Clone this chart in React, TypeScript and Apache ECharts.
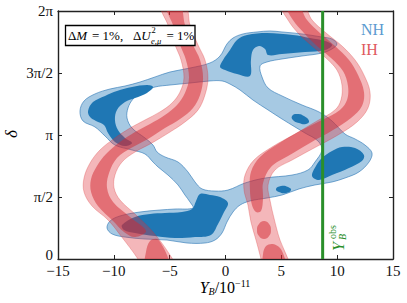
import React, { useEffect, useRef } from "react";
import * as echarts from "echarts";

// ---------- data (Y_B in 1e-11, delta in units of pi) ----------
const xTickValues = [-15, -10, -5, 0, 5, 10, 15];
const yTickLabels = ["0", "π/2", "π", "3π/2", "2π"];
const yObs = 8.7;

// NH (normal hierarchy) 2-sigma region outer boundary
const nhOuter: number[][] = [
  [-13.03, 1.194], [-12.67, 1.274], [-11.69, 1.331], [-10.34, 1.371], [-9.0, 1.395], [-7.66, 1.427],
  [-6.31, 1.468], [-4.97, 1.508], [-3.18, 1.54], [-1.39, 1.581], [-0.49, 1.637], [0.13, 1.734],
  [0.67, 1.782], [1.57, 1.815], [2.82, 1.831], [3.98, 1.839], [5.06, 1.831], [6.85, 1.815],
  [8.64, 1.79], [9.54, 1.774], [9.98, 1.734], [9.54, 1.694], [8.64, 1.661], [6.85, 1.637],
  [5.06, 1.613], [3.72, 1.589], [3.09, 1.557], [3.27, 1.468], [3.81, 1.379], [5.06, 1.315],
  [6.85, 1.242], [8.37, 1.186], [9.54, 1.113], [10.7, 1.008], [11.6, 0.968], [12.49, 0.919],
  [13.12, 0.855], [12.85, 0.782], [11.95, 0.702], [10.7, 0.653], [9.54, 0.621], [8.01, 0.597],
  [6.58, 0.565], [5.06, 0.516], [3.72, 0.492], [2.19, 0.468], [1.3, 0.435], [0.67, 0.379],
  [0.13, 0.298], [-0.31, 0.21], [-0.94, 0.153], [-1.84, 0.129], [-3.45, 0.129], [-5.24, 0.153],
  [-7.21, 0.161], [-9.0, 0.177], [-10.16, 0.202], [-10.61, 0.25], [-10.34, 0.306], [-9.45, 0.347],
  [-7.66, 0.379], [-5.87, 0.395], [-4.52, 0.403], [-2.91, 0.411], [-3.18, 0.46], [-3.63, 0.516],
  [-4.25, 0.597], [-5.15, 0.677], [-6.04, 0.742], [-6.49, 0.782], [-7.21, 0.847], [-8.37, 0.879],
  [-9.9, 0.919], [-10.79, 0.992], [-11.69, 1.065], [-12.76, 1.113],
];
// NH inner hole
const nhHole: number[][] = [
  [-8.73, 1.218], [-8.28, 1.29], [-7.48, 1.347], [-6.31, 1.387], [-4.97, 1.403], [-3.18, 1.419],
  [-1.39, 1.436], [-0.31, 1.436], [0.4, 1.411], [1.3, 1.363], [2.46, 1.282], [3.81, 1.202],
  [5.06, 1.129], [6.22, 1.065], [7.12, 1.016], [8.28, 0.952], [8.64, 0.879], [8.01, 0.782],
  [7.39, 0.718], [5.96, 0.677], [3.54, 0.653], [1.75, 0.613], [0.22, 0.556], [-0.94, 0.548],
  [-2.1, 0.565], [-2.73, 0.621], [-3.36, 0.702], [-4.25, 0.782], [-5.42, 0.823], [-6.13, 0.863],
  [-6.49, 0.919], [-7.21, 0.976], [-8.37, 1.056], [-8.82, 1.137],
];
// NH 1-sigma cores
const nhCore1: number[][] = [
  [-12.31, 1.194], [-11.87, 1.266], [-10.79, 1.315], [-9.72, 1.355], [-8.37, 1.387], [-7.03, 1.403],
  [-6.49, 1.387], [-7.03, 1.339], [-8.1, 1.298], [-9.0, 1.266], [-9.72, 1.202], [-9.9, 1.121],
  [-9.63, 1.04], [-9.0, 0.976], [-8.37, 0.936], [-9.0, 0.911], [-9.9, 0.944], [-10.52, 1.016],
  [-10.88, 1.081], [-11.6, 1.113], [-12.13, 1.145],
];
const nhCore2: number[][] = [
  [-0.49, 1.548], [-0.22, 1.605], [0.4, 1.685], [1.03, 1.766], [1.93, 1.806], [3.72, 1.823],
  [6.04, 1.806], [7.57, 1.782], [8.91, 1.758], [9.54, 1.726], [8.91, 1.685], [7.12, 1.669],
  [5.06, 1.653], [3.81, 1.645], [3.54, 1.694], [3.0, 1.718], [2.46, 1.685], [2.28, 1.605],
  [2.19, 1.476], [1.03, 1.492], [-0.04, 1.524],
];
const nhCore3: number[][] = [
  [-9.27, 0.274], [-8.1, 0.339], [-6.76, 0.363], [-5.42, 0.371], [-3.9, 0.379], [-3.0, 0.403],
  [-2.64, 0.468], [-2.28, 0.524], [-1.39, 0.516], [-0.49, 0.5], [0.22, 0.452], [-0.13, 0.379],
  [-0.67, 0.282], [-1.3, 0.194], [-2.73, 0.177], [-4.52, 0.169], [-6.31, 0.185], [-8.1, 0.21],
  [-9.09, 0.234],
];
const nhCore4: number[][] = [
  [7.75, 0.669], [8.1, 0.75], [8.64, 0.815], [9.54, 0.871], [10.43, 0.903], [11.6, 0.895],
  [12.4, 0.839], [12.22, 0.79], [11.06, 0.734], [9.54, 0.677], [8.37, 0.637],
];
const nhCore5: number[][] = [
  [5.96, 1.153], [6.4, 1.169], [7.03, 1.153], [7.48, 1.113], [7.21, 1.089], [6.58, 1.097], [6.04, 1.121],
];
const nhCore6: number[][] = [
  [4.52, 0.565], [4.97, 0.589], [5.6, 0.581], [5.87, 0.556], [5.42, 0.532], [4.79, 0.54],
];

// IH (inverted hierarchy) bands
const ihBandAOuter: number[][] = [
  [-5.78, 2.049], [-5.15, 1.887], [-4.52, 1.726], [-3.98, 1.605], [-3.72, 1.46], [-4.07, 1.347],
  [-4.79, 1.258], [-5.87, 1.186], [-7.21, 1.121], [-8.55, 1.056], [-9.9, 0.976], [-11.24, 0.879],
  [-12.13, 0.774], [-12.67, 0.653], [-12.67, 0.54], [-11.95, 0.427], [-10.52, 0.315], [-9.36, 0.185],
  [-7.84, 0], [-7.66, -0.048], [-4.61, -0.048], [-4.97, 0.032], [-6.49, 0.218], [-8.01, 0.355],
  [-9.45, 0.476], [-9.98, 0.573], [-9.9, 0.677], [-9.27, 0.782], [-8.1, 0.863], [-6.58, 0.936],
  [-4.97, 1.024], [-3.63, 1.105], [-2.46, 1.202], [-1.84, 1.323], [-1.57, 1.46], [-1.84, 1.605],
  [-2.46, 1.726], [-3.18, 1.887], [-3.63, 2.049],
];
const ihBandACore: number[][] = [
  [-5.33, 2.049], [-4.7, 1.887], [-4.07, 1.726], [-3.54, 1.605], [-3.27, 1.46], [-3.63, 1.339],
  [-4.34, 1.242], [-5.42, 1.161], [-6.76, 1.089], [-8.1, 1.024], [-9.45, 0.944], [-10.7, 0.847],
  [-11.51, 0.75], [-12.04, 0.645], [-12.04, 0.54], [-11.42, 0.427], [-10.07, 0.306], [-9.09, 0.218],
  [-8.1, 0.177], [-7.12, 0.226], [-8.55, 0.339], [-10.07, 0.46], [-10.61, 0.573], [-10.43, 0.694],
  [-9.72, 0.815], [-8.46, 0.895], [-6.94, 0.968], [-5.42, 1.056], [-4.07, 1.129], [-2.91, 1.218],
  [-2.28, 1.323], [-2.01, 1.46], [-2.28, 1.605], [-2.91, 1.726], [-3.63, 1.887], [-4.07, 2.049],
];
const ihBandACore2: number[][] = [
  [-6.76, 0.145], [-6.13, 0.161], [-5.69, 0.113], [-5.24, 0.032], [-5.06, -0.048], [-7.12, -0.048], [-7.12, 0.056],
];
const ihBandBOuter: number[][] = [
  [4.97, 2.049], [5.6, 1.927], [6.49, 1.823], [7.75, 1.718], [9.0, 1.621], [9.98, 1.524],
  [10.43, 1.403], [10.34, 1.282], [9.81, 1.202], [8.19, 1.113], [6.22, 1.008], [4.16, 0.903],
  [2.55, 0.798], [1.75, 0.677], [1.66, 0.556], [2.01, 0.435], [2.28, 0.298], [2.73, 0.153],
  [3.18, 0], [3.27, -0.048], [5.69, -0.048], [5.6, 0], [4.88, 0.153], [4.34, 0.331],
  [3.98, 0.476], [3.81, 0.597], [4.43, 0.718], [5.96, 0.798], [7.93, 0.895], [10.07, 1.0],
  [11.78, 1.105], [12.76, 1.218], [12.94, 1.347], [12.4, 1.484], [11.6, 1.605], [10.43, 1.718],
  [9.0, 1.823], [7.75, 1.927], [6.94, 2.049],
];
const ihBandBCore: number[][] = [
  [5.42, 2.049], [6.04, 1.927], [7.03, 1.823], [8.19, 1.718], [9.45, 1.621], [10.52, 1.516],
  [10.97, 1.395], [10.88, 1.282], [10.25, 1.202], [8.64, 1.121], [6.67, 1.032], [4.7, 0.927],
  [3.09, 0.823], [2.28, 0.702], [2.19, 0.556], [2.37, 0.435], [2.73, 0.379], [3.18, 0.387],
  [3.36, 0.492], [3.36, 0.613], [4.07, 0.742], [5.6, 0.831], [7.57, 0.936], [9.63, 1.04],
  [11.24, 1.137], [12.22, 1.234], [12.4, 1.347], [11.87, 1.484], [11.06, 1.605], [9.81, 1.718],
  [8.46, 1.823], [7.3, 1.927], [6.49, 2.049],
];
const ihBandBCore2: number[][] = [
  [3.45, 0.306], [3.9, 0.282], [4.07, 0.234], [3.9, 0.185], [3.45, 0.161], [3.0, 0.185], [2.82, 0.234], [3.0, 0.282],
];
const ihBandBCore3: number[][] = [
  [3.63, 0.105], [4.25, 0.121], [4.88, 0.089], [5.24, 0.024], [5.42, -0.048], [3.45, -0.048], [3.36, 0.04],
];

// ---------- styles ----------
const FONT = "Liberation Serif, Times New Roman, DejaVu Serif, serif";
const NH_LIGHT = "#a6c9e3";
const NH_DARK = "#1f77b4";
const NH_EDGE = "rgba(40,115,180,0.75)";
const IH_LIGHT = "rgba(224,49,58,0.35)";
const IH_DARK = "rgba(210,40,48,0.5)";
const IH_EDGE = "rgba(214,39,40,0.35)";
const AXIS = "#222";
const GREEN = "#2a8f2a";

function poly(points: number[][], fill: string, stroke: string | null, z: number, smooth = 0.35) {
  return {
    type: "custom",
    coordinateSystem: "cartesian2d",
    xAxisIndex: 0,
    yAxisIndex: 0,
    clip: true,
    silent: true,
    z,
    data: points,
    renderItem: (params: any, api: any) => {
      if (params.dataIndex !== 0) return null;
      const pts = points.map((p) => api.coord(p));
      return {
        type: "polygon",
        shape: { points: pts, smooth },
        style: { fill, stroke: stroke || "none", lineWidth: stroke ? 0.8 : 0 },
      };
    },
  };
}

function txt(x: number, y: number, text: string, size: number, extra: any = {}) {
  return {
    type: "text", z: 101, x, y,
    style: { text, fontFamily: FONT, fontSize: size, fill: "#000", verticalAlign: "middle", ...extra },
  };
}

export default function App() {
  const ref = useRef<HTMLDivElement>(null);
  useEffect(() => {
    if (!ref.current) return;
    const chart = echarts.init(ref.current, undefined, { renderer: "svg" });
    const axisCommon = {
      type: "value",
      splitLine: { show: false },
      axisLine: { show: true, onZero: false, lineStyle: { color: AXIS, width: 1.4 } },
      axisTick: { show: true, inside: true, length: 4, lineStyle: { color: AXIS, width: 1 } },
    };
    const richIt = {
      r: { fontFamily: FONT, fontSize: 13, fill: "#000" },
      i: { fontFamily: FONT, fontSize: 13, fontStyle: "italic", fill: "#000" },
    };
    const option: any = {
      animation: false,
      backgroundColor: "#fff",
      grid: { left: 58, right: 14, top: 11, bottom: 44, outerBoundsMode: "none" },
      xAxis: [
        {
          ...axisCommon,
          min: -15, max: 15, interval: 5, position: "bottom",
          axisLabel: {
            show: true, margin: 4, color: "#111", fontFamily: FONT, fontSize: 15,
            showMinLabel: true, showMaxLabel: true,
            formatter: (v: number) => (xTickValues.includes(v) ? (v < 0 ? "\u2212" + Math.abs(v) : String(v)) : ""),
          },
        },
        { ...axisCommon, min: -15, max: 15, interval: 5, position: "top", axisLabel: { show: false } },
      ],
      yAxis: [
        {
          ...axisCommon,
          min: 0, max: 2, interval: 0.5, position: "left",
          axisLabel: {
            show: true, margin: 5, color: "#111", fontFamily: FONT, fontSize: 15,
            showMinLabel: true, showMaxLabel: true,
            formatter: (v: number) => {
              const s = yTickLabels[Math.round(v * 2)] ?? "";
              return v === 0 ? "{z|" + s + "}" : s;
            },
            rich: { z: { fontFamily: FONT, fontSize: 15, color: "#111", lineHeight: 11, padding: [0, 0, 9, 0] } },
          },
        },
        { ...axisCommon, min: 0, max: 2, interval: 0.5, position: "right", axisLabel: { show: false } },
      ],
      series: [
        poly(nhOuter, NH_LIGHT, NH_EDGE, 1),
        poly(nhHole, "#ffffff", NH_EDGE, 2),
        poly(nhCore1, NH_DARK, null, 3),
        poly(nhCore2, NH_DARK, null, 3),
        poly(nhCore3, NH_DARK, null, 3),
        poly(nhCore4, NH_DARK, null, 3),
        poly(nhCore5, NH_DARK, null, 3, 0.5),
        poly(nhCore6, NH_DARK, null, 3, 0.5),
        poly(ihBandAOuter, IH_LIGHT, IH_EDGE, 4),
        poly(ihBandBOuter, IH_LIGHT, IH_EDGE, 4),
        poly(ihBandACore, IH_DARK, null, 5),
        poly(ihBandACore2, IH_DARK, null, 5),
        poly(ihBandBCore, IH_DARK, null, 5),
        poly(ihBandBCore2, IH_DARK, null, 5, 0.5),
        poly(ihBandBCore3, IH_DARK, null, 5),
        {
          type: "line",
          xAxisIndex: 0,
          yAxisIndex: 0,
          data: [[yObs, 0], [yObs, 2]],
          symbol: "none",
          silent: true,
          z: 8,
          lineStyle: { color: GREEN, width: 3 },
        },
      ],
      graphic: [
        { type: "rect", z: 100, shape: { x: 65.5, y: 25.5, width: 129.5, height: 20 }, style: { fill: "#fff", stroke: "#000", lineWidth: 1.3 } },
        { type: "text", z: 101, x: 68, y: 35.5, style: { text: "{r|Δ}{i|M}", verticalAlign: "middle", rich: richIt } },
        txt(92, 35.5, "= 1%,", 13),
        { type: "text", z: 101, x: 133, y: 35.5, style: { text: "{r|Δ}{i|U}", verticalAlign: "middle", rich: richIt } },
        txt(151.5, 30, "2", 8.5),
        txt(151, 40.5, "e,μ", 8.5, { fontStyle: "italic" }),
        txt(166.5, 35.5, "= 1%", 13),
        txt(361, 29, "NH", 16, { fill: "#5b9bd0" }),
        txt(361, 49, "IH", 16, { fill: "#e0595e" }),
        {
          type: "text", z: 101, x: 225, y: 287,
          style: {
            text: "{i|Y}{sub|B}{r|/10}{sup|\u221211}",
            align: "center",
            verticalAlign: "middle",
            rich: {
              i: { fontFamily: FONT, fontSize: 16, fontStyle: "italic", fill: "#000", lineHeight: 18, verticalAlign: "middle" },
              r: { fontFamily: FONT, fontSize: 16, fill: "#000", lineHeight: 18, verticalAlign: "middle" },
              sub: { fontFamily: FONT, fontSize: 10, fontStyle: "italic", fill: "#000", lineHeight: 18, verticalAlign: "bottom" },
              sup: { fontFamily: FONT, fontSize: 10, fill: "#000", lineHeight: 18, verticalAlign: "top" },
            },
          },
        },
        {
          type: "text", z: 101, x: 11, y: 134, rotation: Math.PI / 2,
          style: { text: "δ", fontFamily: FONT, fontSize: 17, fontStyle: "italic", fill: "#000", align: "center", verticalAlign: "middle" },
        },
        {
          type: "group", z: 101, x: 338, y: 251, rotation: Math.PI / 2,
          children: [
            { type: "text", z: 101, x: 0, y: 0, style: { text: "Y", fontFamily: FONT, fontSize: 16, fontStyle: "italic", fill: GREEN, verticalAlign: "middle" } },
            { type: "text", z: 101, x: 12, y: -5.5, style: { text: "obs", fontFamily: FONT, fontSize: 10, fill: GREEN, verticalAlign: "middle" } },
            { type: "text", z: 101, x: 11, y: 4.5, style: { text: "B", fontFamily: FONT, fontSize: 10, fontStyle: "italic", fill: GREEN, verticalAlign: "middle" } },
          ],
        },
      ],
    };
    chart.setOption(option);
    return () => chart.dispose();
  }, []);
  return <div ref={ref} style={{ position: "fixed", left: 0, top: 0, width: 407, height: 303 }} />;
}
